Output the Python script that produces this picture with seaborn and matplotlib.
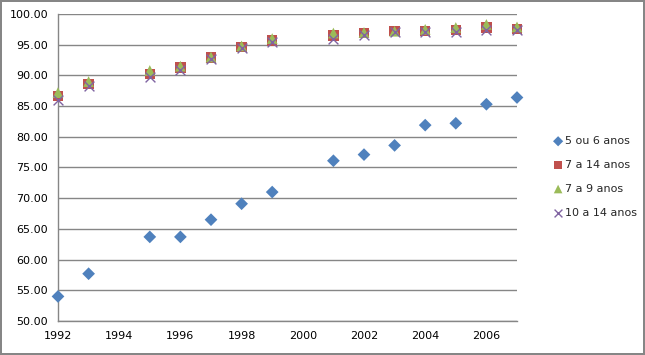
import matplotlib
matplotlib.use("Agg")
import matplotlib.pyplot as plt
import seaborn as sns
import pandas as pd
from matplotlib.ticker import FormatStrFormatter, MultipleLocator

years = [1992, 1993, 1995, 1996, 1997, 1998, 1999, 2001, 2002, 2003, 2004, 2005, 2006, 2007]
s_5a6 = [54.0, 57.7, 63.7, 63.7, 66.5, 69.1, 71.0, 76.1, 77.1, 78.6, 81.9, 82.2, 85.3, 86.4]
s_7a14 = [86.7, 88.6, 90.2, 91.3, 92.9, 94.6, 95.7, 96.5, 96.9, 97.2, 97.2, 97.4, 97.8, 97.6]
s_7a9 = [87.2, 89.0, 90.8, 91.5, 93.0, 94.8, 96.0, 96.9, 97.0, 97.2, 97.5, 97.8, 98.3, 97.9]
s_10a14 = [86.0, 88.3, 89.7, 90.9, 92.7, 94.4, 95.4, 96.0, 96.6, 97.0, 97.0, 97.1, 97.4, 97.4]
series_names = ["5 ou 6 anos", "7 a 14 anos", "7 a 9 anos", "10 a 14 anos"]

frames = []
for name, vals in zip(series_names, [s_5a6, s_7a14, s_7a9, s_10a14]):
    frames.append(pd.DataFrame({"ano": years, "valor": vals, "serie": name}))
df = pd.concat(frames, ignore_index=True)

sns.set_style("white")
plt.rcParams["font.family"] = ["DejaVu Sans"]

fig = plt.figure(figsize=(6.45, 3.55), dpi=100)
fig.patch.set_edgecolor("#868686")
fig.patch.set_linewidth(1.5)
ax = fig.add_axes([58/645, 1 - 321/355, (517-58)/645, (321-14)/355])

palette = {"5 ou 6 anos": "#4F81BD", "7 a 14 anos": "#C0504D",
           "7 a 9 anos": "#9BBB59", "10 a 14 anos": "#8064A2"}
markers = {"5 ou 6 anos": "D", "7 a 14 anos": "s", "7 a 9 anos": "^", "10 a 14 anos": "x"}
sizes = {"5 ou 6 anos": 42, "7 a 14 anos": 55, "7 a 9 anos": 60, "10 a 14 anos": 50}

for name in series_names:
    sub = df[df["serie"] == name]
    kw = dict(linewidths=1.0) if markers[name] == "x" else dict(edgecolor="none")
    sns.scatterplot(data=sub, x="ano", y="valor", color=palette[name],
                    marker=markers[name], s=sizes[name], ax=ax, label=name,
                    zorder=3, clip_on=False, **kw)

ax.set_xlim(1992, 2007)
ax.set_ylim(50, 100)
ax.xaxis.set_major_locator(MultipleLocator(2))
ax.yaxis.set_major_locator(MultipleLocator(5))
ax.yaxis.set_major_formatter(FormatStrFormatter("%.2f"))
ax.set_xlabel("")
ax.set_ylabel("")
ax.grid(axis="y", color="#868686", linewidth=1.0)
ax.grid(axis="x", visible=False)
for side in ["top", "right"]:
    ax.spines[side].set_visible(False)
for side in ["left", "bottom"]:
    ax.spines[side].set_color("#868686")
    ax.spines[side].set_linewidth(1.0)
ax.tick_params(axis="both", labelsize=8, colors="black", length=5,
               width=1.0, color="#868686", direction="out")
ax.tick_params(axis="y", pad=2)
ax.tick_params(axis="x", pad=2)

leg = ax.legend(loc="center left", bbox_to_anchor=(547/645, 1 - 177/355),
                bbox_transform=fig.transFigure, frameon=False, fontsize=8,
                handletextpad=0.0, labelspacing=1.25, handlelength=1.2,
                borderaxespad=0, markerscale=0.8)

fig.savefig("out.png", dpi=100)
